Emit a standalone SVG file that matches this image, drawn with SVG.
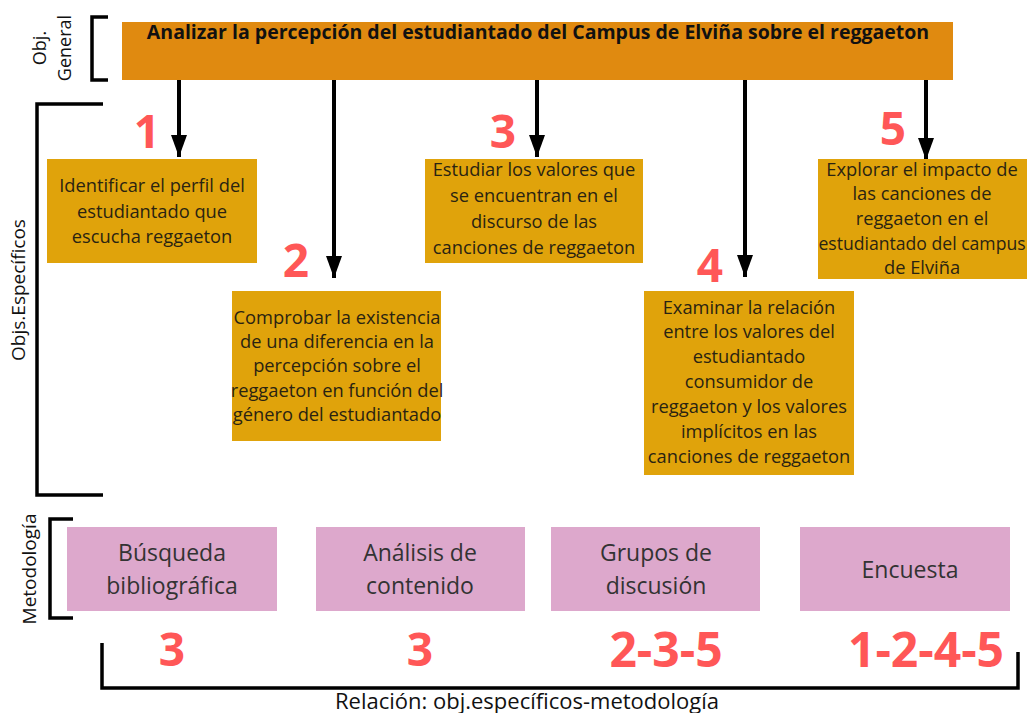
<svg xmlns="http://www.w3.org/2000/svg" width="1027" height="713" viewBox="0 0 1027 713">
<style>
.br{fill:none;stroke:#000;stroke-width:3.5}
.ar{fill:none;stroke:#000;stroke-width:4}
.lbl{font-family:"Open Sans","Liberation Sans",sans-serif;fill:#111;text-anchor:middle}
.obj{fill:#E0A30B}
.ot{font-family:"Open Sans","Liberation Sans",sans-serif;font-size:18.3px;fill:#2a2312;text-anchor:middle}
.met{fill:#DDA8CC}
.mt{font-family:"Open Sans","Liberation Sans",sans-serif;font-size:23px;fill:#333;text-anchor:middle}
.num{font-family:"Open Sans","Liberation Sans",sans-serif;font-weight:bold;fill:#FF5757;text-anchor:middle}
</style>
<defs>
<marker id="ah" markerUnits="userSpaceOnUse" markerWidth="24" markerHeight="16" refX="22" refY="8" orient="auto">
<path d="M0,0 L22,8 L0,16 Z" fill="#000"/>
</marker>
</defs>
<rect width="1027" height="713" fill="#fff"/>
<g id="brackets">
<path class="br" d="M108,17 H92 V80 H108"/>
<path class="br" d="M103,104 H37 V495 H103"/>
<path class="br" d="M73,519 H50 V618 H73"/>
<path class="br" d="M102,643 V688 H1018 V652"/>
</g>
<g id="labels">
<text class="lbl" font-size="18" transform="translate(46,48) rotate(-90)">Obj.</text>
<text class="lbl" font-size="18" transform="translate(71,48) rotate(-90)">General</text>
<text class="lbl" font-size="19" transform="translate(25,290) rotate(-90)">Objs.Específicos</text>
<text class="lbl" font-size="19" transform="translate(36,569) rotate(-90)">Metodología</text>
<text class="lbl" font-size="22" x="527" y="709">Relación: obj.específicos-metodología</text>
</g>
<g id="general">
<rect x="122" y="22" width="831" height="58" fill="#E08A10"/>
<text x="538" y="39" font-family="'Open Sans','Liberation Sans',sans-serif" font-size="19.5" font-weight="bold" fill="#111" text-anchor="middle">Analizar la percepción del estudiantado del Campus de Elviña sobre el reggaeton</text>
</g>
<g id="connectors">
<line class="ar" x1="179" y1="80" x2="179" y2="157" marker-end="url(#ah)"/>
<line class="ar" x1="334" y1="80" x2="334" y2="278" marker-end="url(#ah)"/>
<line class="ar" x1="537" y1="80" x2="537" y2="157" marker-end="url(#ah)"/>
<line class="ar" x1="745" y1="80" x2="745" y2="277" marker-end="url(#ah)"/>
<line class="ar" x1="926" y1="80" x2="926" y2="160" marker-end="url(#ah)"/>
</g>
<g id="n1">
<text class="num" font-size="46" x="147" y="148">1</text>
<rect class="obj" x="47" y="159" width="210" height="104"/>
<text class="ot"><tspan x="152" y="192">Identificar el perfil del</tspan><tspan x="152" y="218">estudiantado que</tspan><tspan x="152" y="243">escucha reggaeton</tspan></text>
</g>
<g id="n2">
<text class="num" font-size="46" x="296" y="277">2</text>
<rect class="obj" x="232" y="291" width="209" height="150"/>
<text class="ot"><tspan x="337" y="324">Comprobar la existencia</tspan><tspan x="337" y="348">de una diferencia en la</tspan><tspan x="337" y="372">percepción sobre el</tspan><tspan x="337" y="397">reggaeton en función del</tspan><tspan x="337" y="421">género del estudiantado</tspan></text>
</g>
<g id="n3">
<text class="num" font-size="46" x="503" y="148">3</text>
<rect class="obj" x="425" y="159" width="218" height="104"/>
<text class="ot"><tspan x="534" y="176">Estudiar los valores que</tspan><tspan x="534" y="202">se encuentran en el</tspan><tspan x="534" y="228">discurso de las</tspan><tspan x="534" y="254">canciones de reggaeton</tspan></text>
</g>
<g id="n4">
<text class="num" font-size="46" x="710" y="282">4</text>
<rect class="obj" x="644" y="291" width="210" height="184"/>
<text class="ot"><tspan x="749" y="314">Examinar la relación</tspan><tspan x="749" y="338">entre los valores del</tspan><tspan x="749" y="363">estudiantado</tspan><tspan x="749" y="388">consumidor de</tspan><tspan x="749" y="413">reggaeton y los valores</tspan><tspan x="749" y="438">implícitos en las</tspan><tspan x="749" y="463">canciones de reggaeton</tspan></text>
</g>
<g id="n5">
<text class="num" font-size="46" x="893" y="145">5</text>
<rect class="obj" x="818" y="159" width="209" height="120"/>
<text class="ot"><tspan x="922" y="176">Explorar el impacto de</tspan><tspan x="922" y="200">las canciones de</tspan><tspan x="922" y="225">reggaeton en el</tspan><tspan x="922" y="250" font-size="17.6">estudiantado del campus</tspan><tspan x="922" y="274">de Elviña</tspan></text>
</g>
<g id="m1">
<rect class="met" x="67" y="527" width="210" height="84"/>
<text class="mt"><tspan x="172" y="561">Búsqueda</tspan><tspan x="172" y="594">bibliográfica</tspan></text>
<text class="num" font-size="46" x="172" y="666">3</text>
</g>
<g id="m2">
<rect class="met" x="316" y="527" width="209" height="84"/>
<text class="mt"><tspan x="420" y="561">Análisis de</tspan><tspan x="420" y="594">contenido</tspan></text>
<text class="num" font-size="46" x="420" y="666">3</text>
</g>
<g id="m3">
<rect class="met" x="551" y="527" width="209" height="84"/>
<text class="mt"><tspan x="656" y="561">Grupos de</tspan><tspan x="656" y="594">discusión</tspan></text>
<text class="num" font-size="48" x="666" y="667">2-3-5</text>
</g>
<g id="m4">
<rect class="met" x="800" y="527" width="210" height="84"/>
<text class="mt" x="910" y="578">Encuesta</text>
<text class="num" font-size="48" x="926" y="667">1-2-4-5</text>
</g>
</svg>
